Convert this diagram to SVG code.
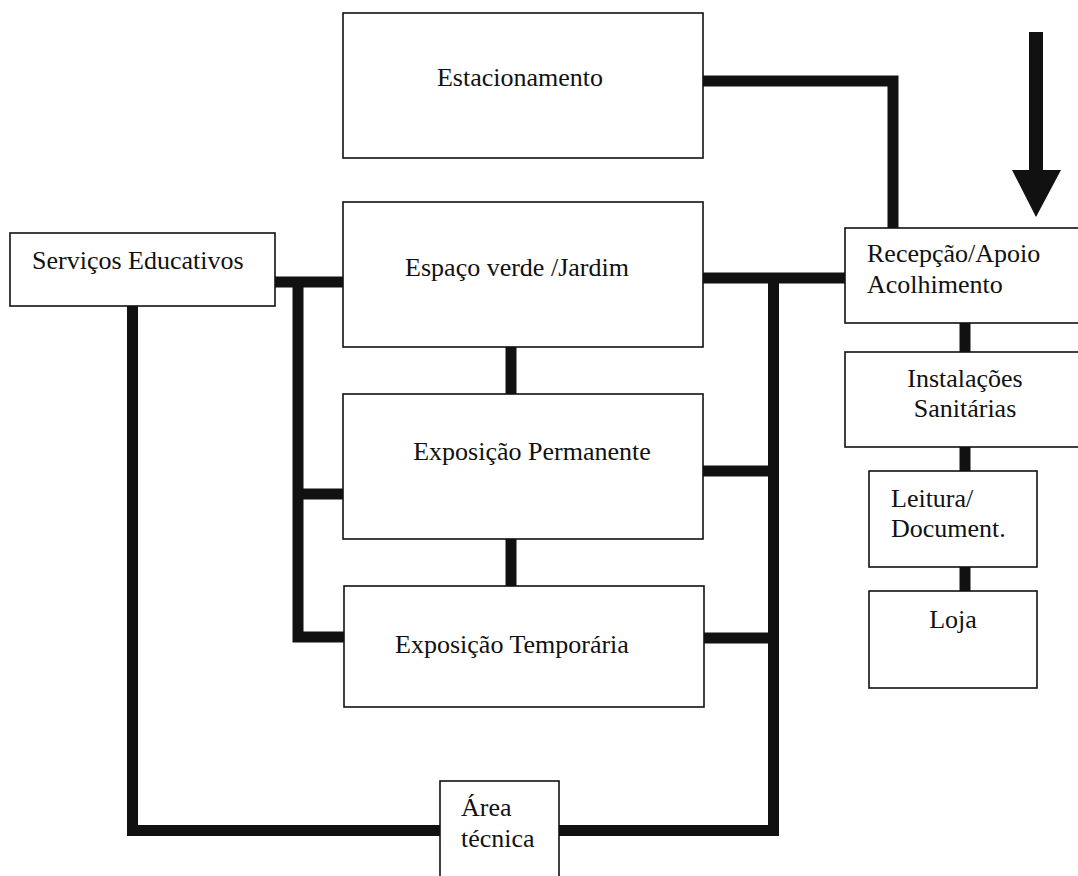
<svg xmlns="http://www.w3.org/2000/svg" width="1078" height="876" viewBox="0 0 1078 876">
<style>
.box{fill:#fff;stroke:#111;stroke-width:1.6}
.t{font-family:"Liberation Serif","Times New Roman",serif;font-size:26px;fill:#111}
.c{text-anchor:middle}
.con{fill:none;stroke:#111;stroke-width:11;stroke-linejoin:miter;stroke-linecap:butt}
</style>
<rect width="1078" height="876" fill="#fff"/>
<g id="connectors">
<path class="con" d="M703 81 H893 V228"/>
<path class="con" d="M703 278 H845"/>
<path class="con" d="M773.5 278 V830.5 H559"/>
<path class="con" d="M703 471 H773.5"/>
<path class="con" d="M704 638 H773.5"/>
<path class="con" d="M275 282 H343"/>
<path class="con" d="M298 282 V637 H344"/>
<path class="con" d="M298 494 H343"/>
<path class="con" d="M132.5 306 V830.5 H440"/>
<path class="con" d="M511 347 V394"/>
<path class="con" d="M511 539 V586"/>
<path class="con" d="M965 323 V352"/>
<path class="con" d="M965 447 V471"/>
<path class="con" d="M965 567 V591"/>
<path fill="#111" d="M1029 32 H1043 V170 H1061 L1036 217 L1012 170 H1029 Z"/>
</g>
<g id="estacionamento">
<rect class="box" x="343" y="13" width="360" height="145"/>
<text class="t c" x="520" y="86">Estacionamento</text>
</g>
<g id="espaco-verde">
<rect class="box" x="343" y="202" width="360" height="145"/>
<text class="t c" x="517" y="276">Espaço verde /Jardim</text>
</g>
<g id="exposicao-permanente">
<rect class="box" x="343" y="394" width="360" height="145"/>
<text class="t c" x="532" y="460">Exposição Permanente</text>
</g>
<g id="exposicao-temporaria">
<rect class="box" x="344" y="586" width="360" height="121"/>
<text class="t c" x="512" y="653">Exposição Temporária</text>
</g>
<g id="servicos-educativos">
<rect class="box" x="10" y="233" width="265" height="73"/>
<text class="t" x="32" y="269">Serviços Educativos</text>
</g>
<g id="recepcao">
<rect class="box" x="845" y="228" width="250" height="95"/>
<text class="t" x="867" y="262">Recepção/Apoio</text>
<text class="t" x="867" y="293">Acolhimento</text>
</g>
<g id="instalacoes">
<rect class="box" x="845" y="352" width="250" height="95"/>
<text class="t c" x="965" y="387">Instalações</text>
<text class="t c" x="965" y="417">Sanitárias</text>
</g>
<g id="leitura">
<rect class="box" x="869" y="471" width="168" height="96"/>
<text class="t" x="891" y="507">Leitura/</text>
<text class="t" x="891" y="537">Document.</text>
</g>
<g id="loja">
<rect class="box" x="869" y="591" width="168" height="97"/>
<text class="t c" x="953" y="628">Loja</text>
</g>
<g id="area-tecnica">
<rect class="box" x="440" y="781" width="119" height="100"/>
<text class="t" x="461" y="816">Área</text>
<text class="t" x="461" y="847">técnica</text>
</g>
</svg>
